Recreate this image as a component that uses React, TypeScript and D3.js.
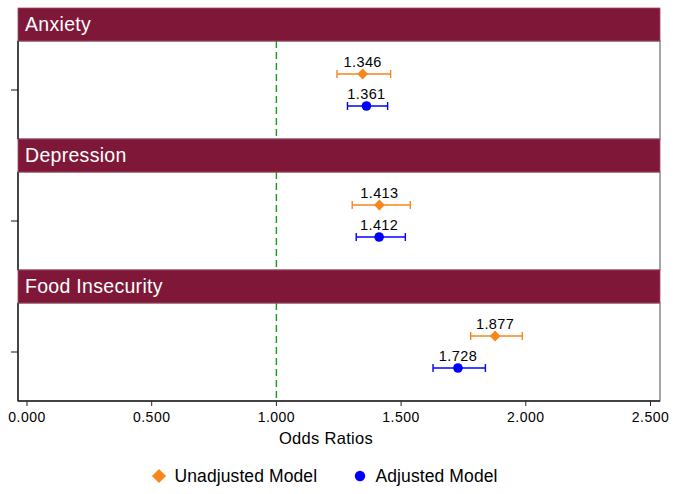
import React from "react";
import * as d3 from "d3";

const categories = ["Anxiety", "Depression", "Food Insecurity"];
const unadjOR = [1.346, 1.413, 1.877];
const unadjLo = [1.243, 1.304, 1.779];
const unadjHi = [1.458, 1.537, 1.986];
const adjOR = [1.361, 1.412, 1.728];
const adjLo = [1.285, 1.32, 1.628];
const adjHi = [1.446, 1.517, 1.838];
const xTicks = [0, 0.5, 1, 1.5, 2, 2.5];
const seriesNames = ["Unadjusted Model", "Adjusted Model"];

const W = 678;
const H = 494;
const left = 18;
const right = 660;
const top = 8;
const headerH = 33;
const bodyH = 98;
const font = "'Liberation Sans', Arial, Helvetica, sans-serif";
const ORANGE = "#f7861c";
const BLUE = "#0000ff";
const MAROON = "#7f1838";

export default function App() {
  const x = d3.scaleLinear().domain([0, 2.5]).range([27, 650.5]);
  const panelTop = (i: number) => top + i * (headerH + bodyH);
  const axisY = panelTop(3);
  const fmt = d3.format(".3f");

  const diamond = d3.symbol().type(d3.symbolSquare).size(58);
  const circle = d3.symbol().type(d3.symbolCircle).size(72);

  return (
    <svg width={W} height={H} style={{ position: "absolute", left: 0, top: 0 }} fontFamily={font}>
      <rect x={0} y={0} width={W} height={H} fill="#fff" />
      {categories.map((c, i) => {
        const pt = panelTop(i);
        const bodyTop = pt + headerH;
        const cy = bodyTop + bodyH / 2;
        const yU = cy - 16;
        const yA = cy + 16;
        return (
          <g key={c}>
            <rect x={left} y={bodyTop} width={right - left} height={bodyH} fill="#fff" stroke="#6b6b6b" strokeWidth={1.2} />
            <line x1={left} x2={left} y1={bodyTop} y2={bodyTop + bodyH} stroke="#111" strokeWidth={1.3} />
            <line x1={x(1)} x2={x(1)} y1={bodyTop} y2={bodyTop + bodyH} stroke="#169a16" strokeWidth={1.4} strokeDasharray="7,4" />
            <line x1={11} x2={left} y1={cy} y2={cy} stroke="#111" strokeWidth={1} />
            {/* Unadjusted */}
            <g stroke={ORANGE} strokeWidth={1.4}>
              <line x1={x(unadjLo[i])} x2={x(unadjHi[i])} y1={yU} y2={yU} />
              <line x1={x(unadjLo[i])} x2={x(unadjLo[i])} y1={yU - 4} y2={yU + 4} />
              <line x1={x(unadjHi[i])} x2={x(unadjHi[i])} y1={yU - 4} y2={yU + 4} />
            </g>
            <path d={diamond() as string} transform={`translate(${x(unadjOR[i])},${yU}) rotate(45)`} fill={ORANGE} />
            <text x={x(unadjOR[i])} y={yU - 7} textAnchor="middle" fontSize={14.5} letterSpacing={0.4} fill="#000">{fmt(unadjOR[i])}</text>
            {/* Adjusted */}
            <g stroke={BLUE} strokeWidth={1.4}>
              <line x1={x(adjLo[i])} x2={x(adjHi[i])} y1={yA} y2={yA} />
              <line x1={x(adjLo[i])} x2={x(adjLo[i])} y1={yA - 4} y2={yA + 4} />
              <line x1={x(adjHi[i])} x2={x(adjHi[i])} y1={yA - 4} y2={yA + 4} />
            </g>
            <path d={circle() as string} transform={`translate(${x(adjOR[i])},${yA})`} fill={BLUE} />
            <text x={x(adjOR[i])} y={yA - 7} textAnchor="middle" fontSize={14.5} letterSpacing={0.4} fill="#000">{fmt(adjOR[i])}</text>
            {/* Header */}
            <rect x={left} y={pt} width={right - left} height={headerH} fill={MAROON} stroke="#a34a66" strokeWidth={0.8} />
            <text x={left + 7} y={pt + 23} fontSize={19.5} letterSpacing={0.3} fill="#fff">{c}</text>
          </g>
        );
      })}
      <line x1={left} x2={right} y1={axisY} y2={axisY} stroke="#222" strokeWidth={1.3} />
      {xTicks.map((t) => (
        <g key={t}>
          <line x1={x(t)} x2={x(t)} y1={axisY} y2={axisY + 5} stroke="#222" strokeWidth={1} />
          <text x={x(t)} y={axisY + 21} textAnchor="middle" fontSize={14} letterSpacing={0.5} fill="#000">{fmt(t)}</text>
        </g>
      ))}
      <text x={(left + right) / 2 - 13} y={444} textAnchor="middle" fontSize={16.5} letterSpacing={0.3} fill="#000">Odds Ratios</text>
      <path d={d3.symbol().type(d3.symbolSquare).size(100)() as string} transform="translate(159,476) rotate(45)" fill={ORANGE} />
      <text x={174.5} y={482} fontSize={17.5} letterSpacing={0.1} fill="#000">{seriesNames[0]}</text>
      <path d={d3.symbol().type(d3.symbolCircle).size(85)() as string} transform="translate(360,476)" fill={BLUE} />
      <text x={375.5} y={482} fontSize={17.5} letterSpacing={0.1} fill="#000">{seriesNames[1]}</text>
    </svg>
  );
}
